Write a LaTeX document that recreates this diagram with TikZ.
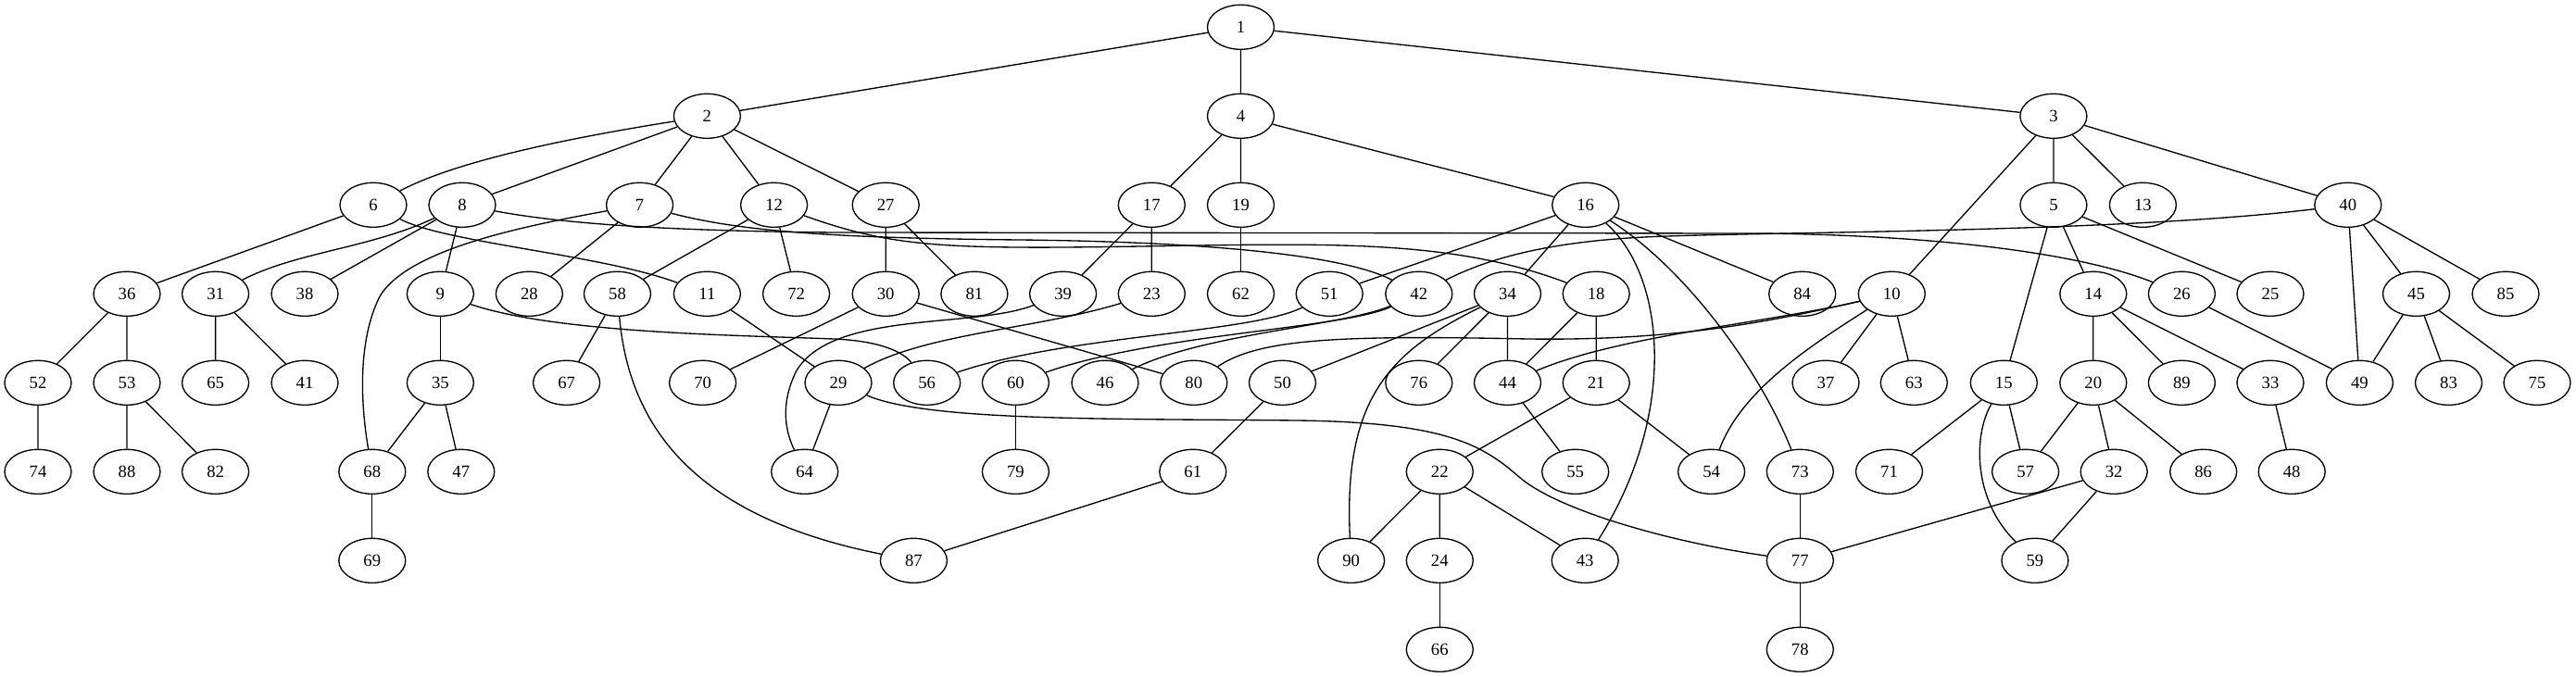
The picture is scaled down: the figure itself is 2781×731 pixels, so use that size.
\documentclass[tikz,border=0pt]{standalone}
\usepackage{fontspec}
\setmainfont{Liberation Serif}
\usepackage{tikz}
\usetikzlibrary{shapes.geometric}

\begin{document}
\begin{tikzpicture}[
    x=0.75pt, y=-0.75pt,
    vertex/.style={ellipse, draw, line width=1pt, minimum width=54pt, minimum height=36pt, inner sep=0pt, font=\fontsize{14pt}{16pt}\selectfont},
    edge/.style={line width=1pt}
]
\useasboundingbox (0,0) rectangle (2781,731);

% Rank 0
\node[vertex] (n1) at (1339.5,29.3) {1};

% Rank 1
\node[vertex] (n2) at (763.4,125.3) {2};
\node[vertex] (n4) at (1339.5,125.3) {4};
\node[vertex] (n3) at (2216.9,125.3) {3};

% Rank 2
\node[vertex] (n6) at (403,221.3) {6};
\node[vertex] (n8) at (499,221.3) {8};
\node[vertex] (n7) at (690.6,221.3) {7};
\node[vertex] (n12) at (835.6,221.3) {12};
\node[vertex] (n27) at (956.2,221.3) {27};
\node[vertex] (n17) at (1243.3,221.3) {17};
\node[vertex] (n19) at (1339.5,221.3) {19};
\node[vertex] (n16) at (1711.7,221.3) {16};
\node[vertex] (n5) at (2216.9,221.3) {5};
\node[vertex] (n13) at (2313.4,221.3) {13};
\node[vertex] (n40) at (2534.8,221.3) {40};

% Rank 3
\node[vertex] (n36) at (137,317.3) {36};
\node[vertex] (n31) at (232.6,317.3) {31};
\node[vertex] (n38) at (329,317.3) {38};
\node[vertex] (n9) at (475.4,317.3) {9};
\node[vertex] (n28) at (571.4,317.3) {28};
\node[vertex] (n58) at (666.5,317.3) {58};
\node[vertex] (n11) at (763.4,317.3) {11};
\node[vertex] (n72) at (859.6,317.3) {72};
\node[vertex] (n30) at (956.2,317.3) {30};
\node[vertex] (n81) at (1051.9,317.3) {81};
\node[vertex] (n39) at (1147.6,317.3) {39};
\node[vertex] (n23) at (1243.3,317.3) {23};
\node[vertex] (n62) at (1339.5,317.3) {62};
\node[vertex] (n51) at (1435.2,317.3) {51};
\node[vertex] (n42) at (1531.8,317.3) {42};
\node[vertex] (n34) at (1627.5,317.3) {34};
\node[vertex] (n18) at (1723.2,317.3) {18};
\node[vertex] (n84) at (1945.7,317.3) {84};
\node[vertex] (n10) at (2042.3,317.3) {10};
\node[vertex] (n14) at (2259.8,317.3) {14};
\node[vertex] (n26) at (2355.4,317.3) {26};
\node[vertex] (n25) at (2451,317.3) {25};
\node[vertex] (n45) at (2608.5,317.3) {45};
\node[vertex] (n85) at (2705,317.3) {85};

% Rank 4
\node[vertex] (n52) at (41,413.3) {52};
\node[vertex] (n53) at (137,413.3) {53};
\node[vertex] (n65) at (232.6,413.3) {65};
\node[vertex] (n41) at (329,413.3) {41};
\node[vertex] (n35) at (475.4,413.3) {35};
\node[vertex] (n67) at (611.6,413.3) {67};
\node[vertex] (n70) at (758.6,413.3) {70};
\node[vertex] (n29) at (905,413.3) {29};
\node[vertex] (n56) at (1000.7,413.3) {56};
\node[vertex] (n60) at (1096.4,413.3) {60};
\node[vertex] (n46) at (1193,413.3) {46};
\node[vertex] (n80) at (1288.8,413.3) {80};
\node[vertex] (n50) at (1384.5,413.3) {50};
\node[vertex] (n76) at (1531.8,413.3) {76};
\node[vertex] (n44) at (1627.5,413.3) {44};
\node[vertex] (n21) at (1723.2,413.3) {21};
\node[vertex] (n37) at (1971,413.3) {37};
\node[vertex] (n63) at (2066.3,413.3) {63};
\node[vertex] (n15) at (2163.3,413.3) {15};
\node[vertex] (n20) at (2259.8,413.3) {20};
\node[vertex] (n89) at (2355.4,413.3) {89};
\node[vertex] (n33) at (2451,413.3) {33};
\node[vertex] (n49) at (2547.4,413.3) {49};
\node[vertex] (n83) at (2643.5,413.3) {83};
\node[vertex] (n75) at (2739,413.3) {75};

% Rank 5
\node[vertex] (n74) at (41,509.3) {74};
\node[vertex] (n88) at (137,509.3) {88};
\node[vertex] (n82) at (232.6,509.3) {82};
\node[vertex] (n68) at (401.8,509.3) {68};
\node[vertex] (n47) at (497.8,509.3) {47};
\node[vertex] (n64) at (868.7,509.3) {64};
\node[vertex] (n79) at (1096.4,509.3) {79};
\node[vertex] (n61) at (1287.8,509.3) {61};
\node[vertex] (n22) at (1554.3,509.3) {22};
\node[vertex] (n55) at (1700.7,509.3) {55};
\node[vertex] (n54) at (1847.6,509.3) {54};
\node[vertex] (n73) at (1943.3,509.3) {73};
\node[vertex] (n71) at (2039.5,509.3) {71};
\node[vertex] (n57) at (2186.6,509.3) {57};
\node[vertex] (n32) at (2282.2,509.3) {32};
\node[vertex] (n86) at (2378.7,509.3) {86};
\node[vertex] (n48) at (2474.2,509.3) {48};

% Rank 6
\node[vertex] (n69) at (401.8,605.3) {69};
\node[vertex] (n87) at (986.4,605.3) {87};
\node[vertex] (n90) at (1458.6,605.3) {90};
\node[vertex] (n24) at (1554.3,605.3) {24};
\node[vertex] (n43) at (1711.2,605.3) {43};
\node[vertex] (n77) at (1943.3,605.3) {77};
\node[vertex] (n59) at (2196.9,605.3) {59};

% Rank 7
\node[vertex] (n66) at (1554.3,701.3) {66};
\node[vertex] (n78) at (1943.3,701.3) {78};

% Straight edges
\draw[edge] (n1) -- (n2) (n1) -- (n4) (n1) -- (n3);
\draw[edge] (n2) -- (n8) (n2) -- (n7) (n2) -- (n12) (n2) -- (n27);
\draw[edge] (n4) -- (n17) (n4) -- (n19) (n4) -- (n16);
\draw[edge] (n3) -- (n10) (n3) -- (n5) (n3) -- (n13) (n3) -- (n40);
\draw[edge] (n6) -- (n36);
\draw[edge] (n8) -- (n38) (n8) -- (n9);
\draw[edge] (n7) -- (n28);
\draw[edge] (n12) -- (n58) (n12) -- (n72);
\draw[edge] (n27) -- (n30) (n27) -- (n81);
\draw[edge] (n17) -- (n39) (n17) -- (n23);
\draw[edge] (n19) -- (n62);
\draw[edge] (n16) -- (n51) (n16) -- (n34) (n16) -- (n84);
\draw[edge] (n5) -- (n14) (n5) -- (n15) (n5) -- (n25);
\draw[edge] (n40) -- (n45) (n40) -- (n85) (n40) -- (n49);
\draw[edge] (n36) -- (n52) (n36) -- (n53);
\draw[edge] (n31) -- (n65) (n31) -- (n41);
\draw[edge] (n9) -- (n35);
\draw[edge] (n58) -- (n67);
\draw[edge] (n11) -- (n29);
\draw[edge] (n30) -- (n70) (n30) -- (n80);
\draw[edge] (n34) -- (n50) (n34) -- (n76) (n34) -- (n44);
\draw[edge] (n18) -- (n44) (n18) -- (n21);
\draw[edge] (n10) -- (n37) (n10) -- (n63);
\draw[edge] (n14) -- (n20) (n14) -- (n89) (n14) -- (n33);
\draw[edge] (n26) -- (n49);
\draw[edge] (n45) -- (n49) (n45) -- (n83) (n45) -- (n75);
\draw[edge] (n52) -- (n74) (n53) -- (n88) (n53) -- (n82);
\draw[edge] (n35) -- (n68) (n35) -- (n47);
\draw[edge] (n60) -- (n79);
\draw[edge] (n29) -- (n64);
\draw[edge] (n50) -- (n61);
\draw[edge] (n21) -- (n22) (n21) -- (n54);
\draw[edge] (n44) -- (n55);
\draw[edge] (n15) -- (n71) (n15) -- (n57);
\draw[edge] (n20) -- (n57) (n20) -- (n32) (n20) -- (n86);
\draw[edge] (n33) -- (n48);
\draw[edge] (n68) -- (n69);
\draw[edge] (n61) -- (n87);
\draw[edge] (n22) -- (n90) (n22) -- (n24) (n22) -- (n43);
\draw[edge] (n73) -- (n77) (n77) -- (n78);
\draw[edge] (n32) -- (n77) (n32) -- (n59);
\draw[edge] (n24) -- (n66);

% Curved edges
\draw[edge] (n2) .. controls (640,145) and (500,170) .. (n6);
\draw[edge] (n6) .. controls (480,262) and (650,275) .. (n11);
\draw[edge] (n8) .. controls (400,268) and (320,272) .. (n31);
\draw[edge] (n8) .. controls (600,240) and (700,249) .. (900,251) -- (1900,252)
    .. controls (2100,254) and (2250,275) .. (n26);
\draw[edge] (n7) .. controls (560,245) and (440,270) .. (410,320)
    .. controls (385,370) and (390,440) .. (n68);
\draw[edge] (n7) .. controls (800,250) and (900,257) .. (1100,259)
    .. controls (1300,261) and (1450,275) .. (n42);
\draw[edge] (n12) .. controls (950,262) and (1000,268) .. (1150,267)
    .. controls (1400,265) and (1550,252) .. (n18);
\draw[edge] (n42) .. controls (1620,272) and (1700,258) .. (1800,255)
    .. controls (1950,250) and (2300,250) .. (n40);
\draw[edge] (n9) .. controls (600,360) and (800,362) .. (900,366)
    .. controls (950,368) and (975,380) .. (n56);
\draw[edge] (n58) .. controls (680,470) and (760,560) .. (n87);
\draw[edge] (n39) .. controls (1050,355) and (900,335) .. (860,400)
    .. controls (840,440) and (850,470) .. (n64);
\draw[edge] (n23) .. controls (1120,355) and (1000,360) .. (n29);
\draw[edge] (n51) .. controls (1350,360) and (1150,362) .. (n56);
\draw[edge] (n42) .. controls (1450,355) and (1250,360) .. (n60);
\draw[edge] (n42) .. controls (1450,352) and (1300,360) .. (n46);
\draw[edge] (n10) .. controls (1900,350) and (1800,368) .. (1650,366)
    .. controls (1450,362) and (1360,365) .. (n80);
\draw[edge] (n10) .. controls (1900,350) and (1750,362) .. (n44);
\draw[edge] (n10) .. controls (1960,370) and (1880,420) .. (n54);
\draw[edge] (n16) .. controls (1800,300) and (1810,450) .. (n43);
\draw[edge] (n16) .. controls (1820,290) and (1900,400) .. (n73);
\draw[edge] (n34) .. controls (1500,380) and (1450,430) .. (n90);
\draw[edge] (n29) .. controls (1000,455) and (1200,452) .. (1400,454)
    .. controls (1560,456) and (1600,480) .. (1640,515)
    .. controls (1680,550) and (1800,585) .. (n77);
\draw[edge] (n15) .. controls (2130,470) and (2130,540) .. (n59);

\end{tikzpicture}
\end{document}
